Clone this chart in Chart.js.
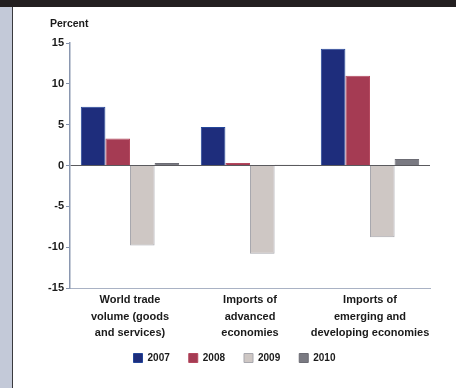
<!DOCTYPE html>
<html>
<head>
<meta charset="utf-8">
<script src="https://cdn.jsdelivr.net/npm/chart.js@4/dist/chart.umd.min.js"></script>
<style>
  html, body { margin: 0; padding: 0; background: #ffffff; }
  #frame { position: relative; width: 456px; height: 388px; overflow: hidden; background: #ffffff; }
  #side { position: absolute; left: 0; top: 0; width: 12px; height: 388px; background: #c3c9d8; border-right: 1px solid #3a3a3e; }
  #band { position: absolute; left: 0; top: 0; width: 456px; height: 7px; background: #231f20; }
  #wrap { position: absolute; left: 13px; top: 7px; width: 443px; height: 381px; }
</style>
</head>
<body>
<div id="frame">
  <div id="side"></div>
  <div id="band"></div>
  <div id="wrap"><canvas id="c" width="443" height="381"></canvas></div>
</div>
<script>
// Trade volume growth, percent change
const categories = [
  ["World trade", "volume (goods", "and services)"],
  ["Imports of", "advanced", "economies"],
  ["Imports of", "emerging and", "developing economies"]
];
const years = ["2007", "2008", "2009", "2010"];
const values2007 = [7.2, 4.7, 14.3];
const values2008 = [3.3, 0.3, 11.0];
const values2009 = [-9.8, -10.8, -8.8];
const values2010 = [0.3, 0.1, 0.8];
const yTicks = [15, 10, 5, 0, -5, -10, -15];

const FONT = "'Liberation Sans', Arial, sans-serif";

// axis unit caption above the value axis
const percentLabel = {
  id: 'percentLabel',
  afterDraw(chart) {
    const { ctx, chartArea } = chart;
    ctx.save();
    ctx.font = "bold 10.5px " + FONT;
    ctx.fillStyle = '#1a1a1a';
    ctx.textAlign = 'left';
    ctx.textBaseline = 'middle';
    ctx.fillText('Percent', chartArea.left - 20, chartArea.top - 19);
    ctx.restore();
  }
};

new Chart(document.getElementById('c'), {
  type: 'bar',
  data: {
    labels: categories,
    datasets: [
      { label: years[0], data: values2007, backgroundColor: '#1e2d7c', borderColor: '#24479a', borderWidth: 1 },
      { label: years[1], data: values2008, backgroundColor: '#a53b53', borderColor: '#b4485e', borderWidth: 1 },
      { label: years[2], data: values2009, backgroundColor: '#cec7c4', borderColor: '#a8a8ae', borderWidth: 1 },
      { label: years[3], data: values2010, backgroundColor: '#7a7a82', borderColor: '#6c6c74', borderWidth: 1 }
    ]
  },
  options: {
    responsive: false,
    animation: false,
    layout: { padding: { top: 36, left: 0, right: 0, bottom: 15 } },
    datasets: { bar: { barPercentage: 1.0, categoryPercentage: 0.82 } },
    plugins: {
      legend: {
        position: 'bottom',
        labels: {
          boxWidth: 9, boxHeight: 9, padding: 19,
          color: '#1a1a1a',
          font: { family: FONT, size: 10, weight: 'bold' }
        }
      },
      tooltip: { enabled: false }
    },
    scales: {
      x: {
        grid: { display: false, drawTicks: false },
        border: { display: true, color: '#a9b2c4', width: 1 },
        ticks: {
          color: '#1a1a1a', padding: 4, maxRotation: 0, autoSkip: false,
          font: { family: FONT, size: 11, weight: 'bold', lineHeight: 1.5 }
        },
        afterFit(scale) {
          scale.height = 46;
          // let the three-line labels run past the axis box
          scale._computeLabelArea = () => undefined;
        }
      },
      y: {
        min: -15, max: 15,
        afterBuildTicks(scale) { scale.ticks = yTicks.map(v => ({ value: v })); },
        grid: {
          color: ctx => (ctx.tick && ctx.tick.value === 0) ? '#5a5a5e' : 'rgba(0,0,0,0)',
          lineWidth: 1,
          tickColor: '#8391ab',
          tickLength: 4,
          drawTicks: true
        },
        border: { display: true, color: '#8a97b0', width: 1.5 },
        ticks: {
          color: '#1a1a1a', padding: 2,
          font: { family: FONT, size: 11, weight: 'bold' },
          callback: v => String(v)
        },
        afterFit(scale) { scale.width = 57; }
      },
      yRight: {
        position: 'right',
        display: true,
        grid: { display: false, drawTicks: false },
        border: { display: false },
        ticks: { display: false },
        afterFit(scale) { scale.width = 26; }
      }
    }
  },
  plugins: [percentLabel]
});
</script>
</body>
</html>
